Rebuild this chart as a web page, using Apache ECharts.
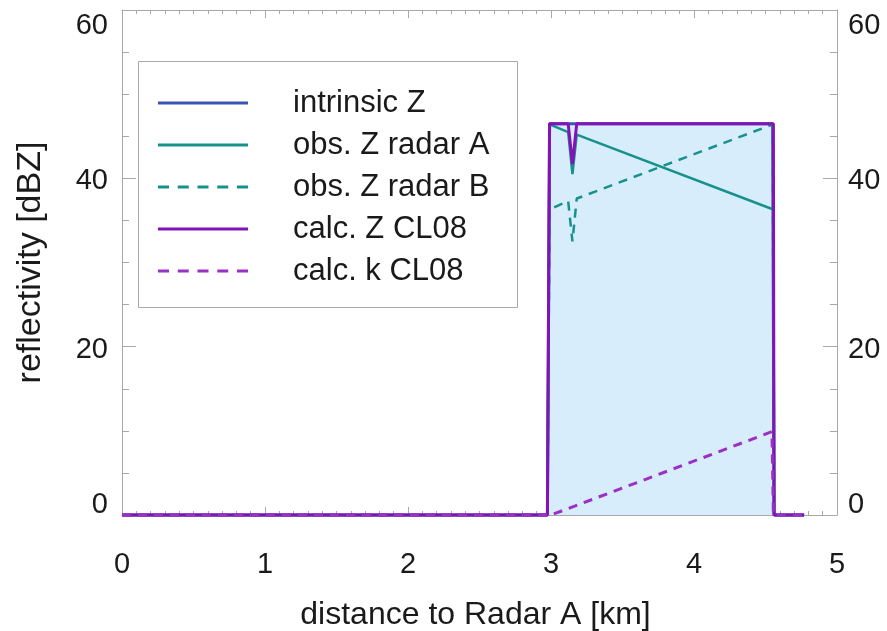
<!DOCTYPE html>
<html>
<head>
<meta charset="utf-8">
<script src="https://cdn.jsdelivr.net/npm/echarts@6/dist/echarts.min.js"></script>
<style>
html,body{margin:0;padding:0;background:#fff;}
#chart{width:887px;height:631px;}
</style>
</head>
<body>
<div id="chart"></div>
<script>
// ---- data (x in km, y in dBZ) ----
const seriesNames = ['intrinsic Z', 'obs. Z radar A', 'obs. Z radar B', 'calc. Z CL08', 'calc. k CL08'];
const intrinsicZ = [[0,0],[2.975,0],[2.99,46.5],[4.55,46.5],[4.56,0],[4.77,0]];
const obsZA = [[0,0],[2.975,0],[2.99,46.4],[3.12,45.5],[3.15,40.5],[3.18,45.2],[4.555,36.3],[4.56,0],[4.77,0]];
const obsZB = [[0,0],[2.975,0],[2.99,36.3],[3.12,37.3],[3.15,32.5],[3.18,37.6],[4.55,46.4],[4.56,0],[4.77,0]];
const calcZ = [[0,0],[2.975,0],[2.99,46.5],[3.12,46.5],[3.15,41.7],[3.18,46.5],[4.555,46.5],[4.56,0],[4.77,0]];
const calcK = [[0,0],[3.0,0],[4.545,9.9],[4.555,0],[4.77,0]];
const xTicks = [0,1,2,3,4,5];
const yTicks = [0,20,40,60];

const FONT = '"Liberation Sans", Arial, Helvetica, sans-serif';
const AX = '#a8a8a8';
const TXT = '#1a1a1a';
const COLORS = ['#3a55b4', '#17918c', '#17918c', '#8412b6', '#9a30c6'];

const SOLID_ICON = 'path://M0,0h90v3h-90z';
const DASH_ICON = 'path://M0,0h11v3h-11z M19.75,0h11v3h-11z M39.5,0h11v3h-11z M59.25,0h11v3h-11z M79,0h11v3h-11z';

const chart = echarts.init(document.getElementById('chart'), null, {renderer:'canvas'});

function yRich(){
  return {
    s60:{fontSize:29,fontFamily:FONT,color:TXT,padding:[32,0,0,0]},
    s40:{fontSize:29,fontFamily:FONT,color:TXT,padding:[6,0,0,0]},
    s20:{fontSize:29,fontFamily:FONT,color:TXT,padding:[6,0,0,0]},
    s0:{fontSize:29,fontFamily:FONT,color:TXT,padding:[0,0,20,0]}
  };
}
function xAxisBase(pos){
  return {
    type:'value', min:xTicks[0], max:xTicks[xTicks.length-1], interval:1, position:pos,
    axisLine:{show:true,onZero:false,lineStyle:{color:AX,width:1}},
    axisTick:{show:true,inside:true,length:8,lineStyle:{color:AX}},
    minorTick:{show:true,splitNumber:10,length:4,lineStyle:{color:AX}},
    splitLine:{show:false}
  };
}
function yAxisBase(pos){
  return {
    type:'value', min:yTicks[0], max:yTicks[yTicks.length-1], interval:20, position:pos,
    axisLine:{show:true,onZero:false,lineStyle:{color:AX,width:1}},
    axisTick:{show:true,inside:true,length:14,lineStyle:{color:AX}},
    minorTick:{show:true,splitNumber:4,length:7,lineStyle:{color:AX}},
    splitLine:{show:false},
    axisLabel:{show:true,margin:pos==='left'?14:11,formatter:v=>'{s'+v+'|'+v+'}',rich:yRich()}
  };
}

const xb = xAxisBase('bottom');
xb.axisLabel = {show:true,margin:35,fontSize:29,fontFamily:FONT,color:TXT};
xb.name = 'distance to Radar A [km]';
xb.nameLocation = 'middle';
xb.nameGap = 84;
xb.nameTextStyle = {fontSize:32,fontFamily:FONT,color:TXT,padding:[0,8,0,0]};
const xt = xAxisBase('top');
xt.axisLabel = {show:false};

const yl = yAxisBase('left');
yl.name = 'reflectivity [dBZ]';
yl.nameLocation = 'middle';
yl.nameGap = 74;
yl.nameTextStyle = {fontSize:34,fontFamily:FONT,color:TXT};
const yr = yAxisBase('right');

function lineSeries(name, data, color, width, dashed, extra){
  return Object.assign({
    name:name, type:'line', data:data, xAxisIndex:0, yAxisIndex:0,
    showSymbol:false, symbol:'none', clip:false, animation:false,
    lineStyle:{color:color,width:width,type:dashed?[9,7]:'solid'},
    itemStyle:{color:color}
  }, extra||{});
}

const legendData = seriesNames.map((n,i)=>({
  name:n,
  icon:(i===2||i===4)?DASH_ICON:SOLID_ICON,
  itemStyle:{color:COLORS[i],borderWidth:0}
}));

const option = {
  backgroundColor:'#fff',
  animation:false,
  grid:{left:122,right:50,top:10,bottom:116,containLabel:false,outerBoundsMode:'none'},
  xAxis:[xb, xt],
  yAxis:[yl, yr],
  legend:{
    orient:'vertical', left:158, top:82, padding:0, itemGap:0,
    itemWidth:90, itemHeight:3,
    textStyle:{fontSize:31,fontFamily:FONT,color:TXT,lineHeight:42,padding:[0,0,0,40]},
    data:legendData
  },
  graphic:[{
    type:'rect', left:136, top:59, z:-1,
    shape:{width:379,height:246},
    style:{fill:'none',stroke:AX,lineWidth:1}
  }],
  series:[
    lineSeries(seriesNames[0], intrinsicZ, COLORS[0], 3, false, {areaStyle:{color:'#d8edfb',opacity:1}}),
    lineSeries(seriesNames[1], obsZA, COLORS[1], 2.5, false),
    lineSeries(seriesNames[2], obsZB, COLORS[2], 2.5, true),
    lineSeries(seriesNames[3], calcZ, COLORS[3], 3, false),
    lineSeries(seriesNames[4], calcK, COLORS[4], 3, true)
  ]
};
chart.setOption(option);
</script>
</body>
</html>
